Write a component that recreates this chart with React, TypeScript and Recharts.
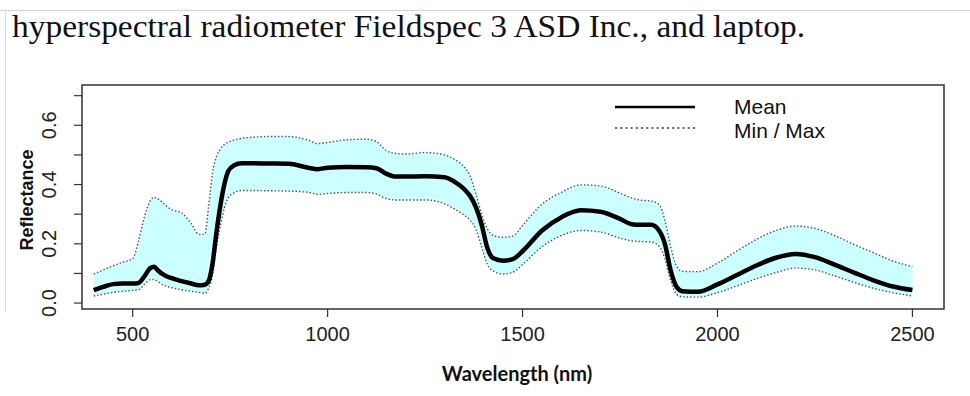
import React from 'react';
import { ComposedChart, Area, Line, XAxis, YAxis, ReferenceArea } from 'recharts';

const wavelengths = [400, 425, 450, 475, 500, 515, 530, 545, 555, 565, 580, 600, 625, 650, 670, 685, 695, 705, 715, 725, 735, 745, 760, 780, 800, 850, 900, 950, 975, 1000, 1050, 1100, 1125, 1150, 1175, 1200, 1250, 1300, 1325, 1350, 1365, 1380, 1395, 1410, 1425, 1450, 1475, 1500, 1550, 1600, 1650, 1700, 1750, 1780, 1800, 1830, 1850, 1865, 1880, 1895, 1910, 1950, 2000, 2050, 2100, 2150, 2200, 2250, 2300, 2350, 2400, 2450, 2500];

const meanValues = [0.044, 0.055, 0.064, 0.066, 0.066, 0.068, 0.09, 0.118, 0.123, 0.11, 0.095, 0.084, 0.074, 0.066, 0.06, 0.062, 0.075, 0.135, 0.24, 0.33, 0.4, 0.445, 0.465, 0.472, 0.472, 0.471, 0.47, 0.457, 0.452, 0.457, 0.459, 0.458, 0.455, 0.437, 0.427, 0.427, 0.428, 0.425, 0.41, 0.385, 0.362, 0.325, 0.265, 0.185, 0.151, 0.143, 0.148, 0.175, 0.245, 0.29, 0.313, 0.308, 0.284, 0.266, 0.264, 0.264, 0.245, 0.2, 0.11, 0.055, 0.04, 0.038, 0.063, 0.095, 0.127, 0.153, 0.166, 0.155, 0.13, 0.103, 0.077, 0.056, 0.044];

const maxValues = [0.098, 0.112, 0.126, 0.138, 0.15, 0.21, 0.29, 0.345, 0.357, 0.352, 0.335, 0.315, 0.305, 0.268, 0.232, 0.232, 0.33, 0.44, 0.495, 0.52, 0.535, 0.543, 0.55, 0.556, 0.559, 0.562, 0.562, 0.55, 0.538, 0.542, 0.551, 0.553, 0.545, 0.515, 0.505, 0.503, 0.508, 0.5, 0.485, 0.46, 0.43, 0.37, 0.3, 0.25, 0.228, 0.222, 0.226, 0.262, 0.334, 0.374, 0.399, 0.395, 0.371, 0.355, 0.348, 0.344, 0.333, 0.28, 0.19, 0.125, 0.107, 0.106, 0.135, 0.176, 0.215, 0.245, 0.26, 0.252, 0.228, 0.198, 0.17, 0.142, 0.123];

const minValues = [0.024, 0.03, 0.036, 0.04, 0.043, 0.045, 0.063, 0.079, 0.08, 0.072, 0.06, 0.052, 0.045, 0.04, 0.036, 0.033, 0.05, 0.095, 0.19, 0.26, 0.32, 0.355, 0.372, 0.38, 0.38, 0.379, 0.378, 0.374, 0.367, 0.37, 0.373, 0.373, 0.368, 0.353, 0.348, 0.348, 0.348, 0.335, 0.318, 0.297, 0.28, 0.25, 0.19, 0.13, 0.108, 0.098, 0.104, 0.13, 0.19, 0.228, 0.245, 0.24, 0.219, 0.21, 0.208, 0.206, 0.192, 0.15, 0.075, 0.03, 0.021, 0.02, 0.035, 0.058, 0.082, 0.103, 0.118, 0.112, 0.092, 0.07, 0.05, 0.035, 0.024];

const xTicks = [500, 1000, 1500, 2000, 2500];
const yTicks = [0, 0.1, 0.2, 0.3, 0.4, 0.5, 0.6, 0.7];
const yTickLabels: Record<string, string> = { '0': '0.0', '0.2': '0.2', '0.4': '0.4', '0.6': '0.6' };

const titleText = 'hyperspectral radiometer Fieldspec 3 ASD Inc., and laptop.';
const xAxisTitle = 'Wavelength (nm)';
const yAxisTitle = 'Reflectance';
const legendLabels = ['Mean', 'Min / Max'];

const data = wavelengths.map((wl, i) => ({
  wl,
  mean: meanValues[i],
  min: minValues[i],
  max: maxValues[i],
  range: [minValues[i], maxValues[i]],
}));

const SANS = 'Liberation Sans, Arial, sans-serif';

const YTick = (props: any) => {
  const { x, y, payload } = props;
  const label = yTickLabels[String(payload.value)];
  if (!label) return null;
  const bx = x - 16;
  return (
    <text x={bx} y={y} transform={`rotate(-90, ${bx}, ${y})`} textAnchor="middle" fontFamily={SANS} fontSize={20} fill="#222">
      {label}
    </text>
  );
};

const XTick = (props: any) => {
  const { x, y, payload } = props;
  return (
    <text x={x} y={y} dy="0.75em" textAnchor="middle" fontFamily={SANS} fontSize={20} fill="#222">
      {payload.value}
    </text>
  );
};

export default function App() {
  return (
    <div style={{ position: 'absolute', left: 0, top: 0, width: 970, height: 396, background: '#fff', overflow: 'hidden' }}>
      <svg width={970} height={396} style={{ position: 'absolute', left: 0, top: 0 }}>
        <line x1={0} y1={10.5} x2={970} y2={10.5} stroke="#d4d4d4" strokeWidth={1} />
        <line x1={5.5} y1={10} x2={5.5} y2={312} stroke="#dcdcdc" strokeWidth={1} />
        <text x={12} y={37} fontFamily="Liberation Serif, serif" fontSize={32} fill="#111" textLength={793} lengthAdjust="spacingAndGlyphs">
          {titleText}
        </text>
      </svg>
      <div style={{ position: 'absolute', left: 0, top: 0 }}>
        <ComposedChart width={970} height={396} data={data} margin={{ top: 85, right: 26, bottom: 47, left: 42 }}>
          <XAxis
            dataKey="wl"
            type="number"
            domain={[370, 2581]}
            ticks={xTicks}
            allowDataOverflow
            axisLine={false}
            tickLine={{ stroke: '#333', strokeWidth: 1.2 }}
            tickSize={8}
            tickMargin={9}
            height={40}
            tick={<XTick />}
            interval={0}
          />
          <YAxis
            type="number"
            domain={[-0.02, 0.736]}
            ticks={yTicks}
            allowDataOverflow
            axisLine={false}
            tickLine={{ stroke: '#333', strokeWidth: 1.2 }}
            tickSize={8}
            tickMargin={2}
            width={40}
            tick={<YTick />}
            interval={0}
          />
          <Area
            dataKey="range"
            type="monotone"
            fill="#ccffff"
            fillOpacity={1}
            stroke="none"
            isAnimationActive={false}
            dot={false}
            activeDot={false}
          />
          <Line dataKey="max" type="monotone" stroke="#555" strokeWidth={1.4} strokeDasharray="1.5 2" dot={false} isAnimationActive={false} />
          <Line dataKey="min" type="monotone" stroke="#555" strokeWidth={1.4} strokeDasharray="1.5 2" dot={false} isAnimationActive={false} />
          <Line dataKey="mean" type="monotone" stroke="#000" strokeWidth={4.5} dot={false} isAnimationActive={false} />
          <ReferenceArea x1={370} x2={2581} y1={-0.02} y2={0.736} fill="none" stroke="#333" strokeWidth={1.5} ifOverflow="visible" />
        </ComposedChart>
      </div>
      <svg width={970} height={396} style={{ position: 'absolute', left: 0, top: 0, pointerEvents: 'none' }}>
        <line x1={615} y1={107} x2={695} y2={107} stroke="#000" strokeWidth={2.5} />
        <line x1={615} y1={128} x2={695} y2={128} stroke="#333" strokeWidth={1.6} strokeDasharray="2 3.2" />
        <text x={734} y={114} fontFamily={SANS} fontSize={21} fill="#111">{legendLabels[0]}</text>
        <text x={734} y={138} fontFamily={SANS} fontSize={21} fill="#111">{legendLabels[1]}</text>
        <text x={33} y={200} transform="rotate(-90, 33, 200)" textAnchor="middle" fontFamily={SANS} fontWeight="bold" fontSize={18} fill="#111">
          {yAxisTitle}
        </text>
        <text x={517} y={381} textAnchor="middle" fontFamily="Lato, sans-serif" fontWeight="bold" fontSize={20} fill="#111">
          {xAxisTitle}
        </text>
      </svg>
    </div>
  );
}
